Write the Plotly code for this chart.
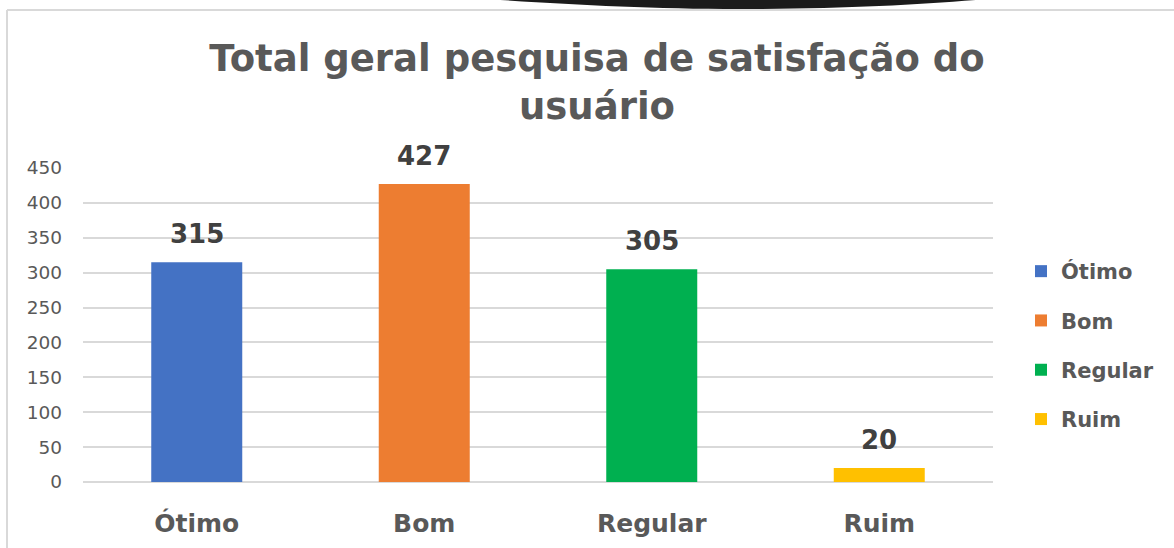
import plotly.graph_objects as go

categories = ["Ótimo", "Bom", "Regular", "Ruim"]
values = [315, 427, 305, 20]
colors = ["#4472C4", "#ED7D31", "#00B050", "#FFC000"]
y_ticks = [0, 50, 100, 150, 200, 250, 300, 350, 400, 450]

W, H = 1174, 548
L, R, T, B = 83, 181, 168, 66
PW, PH = W - L - R, H - T - B


def px(x):
    return (x - L) / PW


def py(y):
    return (H - B - y) / PH


fig = go.Figure()
for cat, val, col in zip(categories, values, colors):
    fig.add_trace(go.Bar(
        x=[cat], y=[val], name=cat, marker=dict(color=col, line=dict(width=0)),
        legendgroup=cat, showlegend=True,
    ))

annotations = []
for cat, val in zip(categories, values):
    annotations.append(dict(
        x=cat, y=val, xref="x", yref="y", text=str(val), showarrow=False,
        yanchor="bottom", yshift=11,
        font=dict(family="DejaVu Sans", size=26, color="#404040", weight="bold"),
    ))

shapes = [
    # outer chart border (left and top edges)
    dict(type="line", xref="paper", yref="paper", x0=px(7), x1=px(7), y0=py(10), y1=py(560),
         line=dict(color="#d9d9d9", width=2)),
    dict(type="line", xref="paper", yref="paper", x0=px(7), x1=px(1180), y0=py(10), y1=py(10),
         line=dict(color="#d9d9d9", width=2)),
    # dark object at top edge
    dict(type="path", xref="paper", yref="paper",
         path=(f"M {px(470)},{py(-2)} "
               f"C {px(560)},{py(4)} {px(640)},{py(9)} {px(740)},{py(9)} "
               f"C {px(850)},{py(9)} {px(930)},{py(4)} {px(1000)},{py(-2)} Z"),
         fillcolor="#1b1b1b", line=dict(width=0)),
]

fig.update_layout(
    width=W, height=H,
    margin=dict(l=L, r=R, t=T, b=B, autoexpand=False),
    paper_bgcolor="white", plot_bgcolor="white",
    barmode="overlay", bargap=0.6,
    title=dict(
        text="Total geral pesquisa de satisfação do<br>usuário",
        x=597 / W, xanchor="center", xref="container",
        y=1 - 71 / H, yanchor="top", yref="container",
        font=dict(family="DejaVu Sans", size=37, color="#595959", weight="bold"),
    ),
    xaxis=dict(
        categoryorder="array", categoryarray=categories,
        showgrid=False, showline=False, zeroline=False, ticks="",
        ticklabelstandoff=24,
        tickfont=dict(family="DejaVu Sans", size=25, color="#595959", weight="bold"),
    ),
    yaxis=dict(
        range=[0, 450], tickvals=y_ticks, ticktext=[str(v) for v in y_ticks],
        showgrid=True, gridcolor="#d9d9d9", gridwidth=1.5,
        zeroline=True, zerolinecolor="#d9d9d9", zerolinewidth=1.5,
        showline=False, ticks="", ticklabelstandoff=20,
        tickfont=dict(family="DejaVu Sans", size=18.5, color="#595959"),
    ),
    legend=dict(
        x=px(1021), xanchor="left", y=py(251), yanchor="top",
        font=dict(family="DejaVu Sans", size=21, color="#595959", weight="bold"),
        tracegroupgap=19, bgcolor="rgba(0,0,0,0)", itemclick=False,
    ),
    annotations=annotations,
    shapes=shapes,
)

fig.write_html("out.html", config={"displayModeBar": False},
               post_script="document.body.style.margin='0';")
